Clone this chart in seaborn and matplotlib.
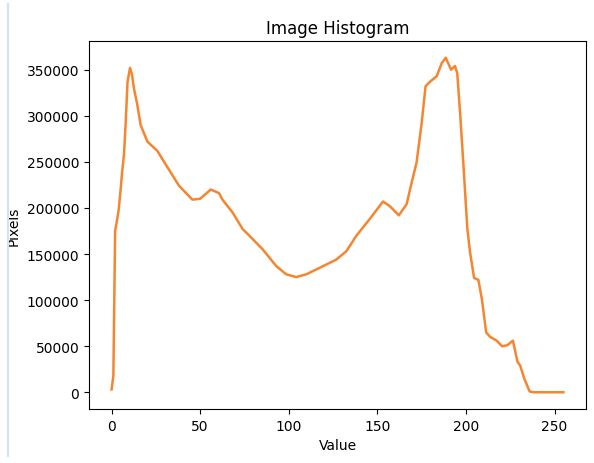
import matplotlib
matplotlib.use("Agg")
import matplotlib.pyplot as plt
from matplotlib.lines import Line2D
import seaborn as sns

# Histogram values (pixel value -> pixel count)
values = [0, 1, 2, 3, 4, 5, 6, 7, 8, 9, 10.4, 11.5, 12.6, 14.5, 16.4, 20.2,
          25.8, 30.6, 38.1, 45.6, 50, 56, 60.7, 62.6, 68.3, 74, 77.7, 85.3,
          92.9, 98.5, 104.2, 109.9, 117.4, 126.8, 132.5, 138.2, 145.7, 153.2,
          157, 162.1, 166.5, 169.3, 172.1, 175, 177.2, 179.7, 183.5, 186.3,
          188.6, 191.6, 193.8, 195.1, 196.7, 198.5, 200.8, 202.3, 204.6, 207,
          209, 211.4, 213.7, 217.4, 220.3, 223.4, 226.5, 229.1, 230.6, 232.9,
          235.9, 238, 245, 250, 255]
pixels = [3000, 18000, 175000, 186000, 198000, 218000, 240000, 258000,
          294000, 337000, 352000, 345000, 330000, 312000, 290000, 272000,
          262000, 247000, 224000, 209000, 210000, 220000, 216000, 209000,
          195000, 177000, 170000, 155000, 137000, 128000, 125000, 128000,
          135000, 144000, 153000, 170000, 188000, 207000, 202000, 192000,
          204000, 227000, 249000, 292000, 332000, 337000, 343000, 357000,
          363000, 350000, 354000, 346000, 303000, 249000, 177000, 152000,
          124000, 122000, 101000, 65000, 60000, 56000, 50000, 51000, 56000,
          33000, 29000, 15000, 1000, 0, 0, 0, 0]

fig = plt.figure(figsize=(5.94, 4.64), dpi=100)
ax = fig.add_axes([89 / 594, 54 / 464, 497 / 594, 368 / 464])

sns.lineplot(x=values, y=pixels, color="#f5852f", linewidth=1.8, ax=ax)

ax.set_title("Image Histogram")
ax.set_xlabel("Value")
ax.set_ylabel("Pixels")
ax.set_xticks([0, 50, 100, 150, 200, 250])

# notebook cell border on the left
fig.add_artist(Line2D([8 / 594, 8 / 594], [7 / 464, 459 / 464],
                      color="#d5e2ee", linewidth=1.5))

fig.savefig("out.png", dpi=100)
